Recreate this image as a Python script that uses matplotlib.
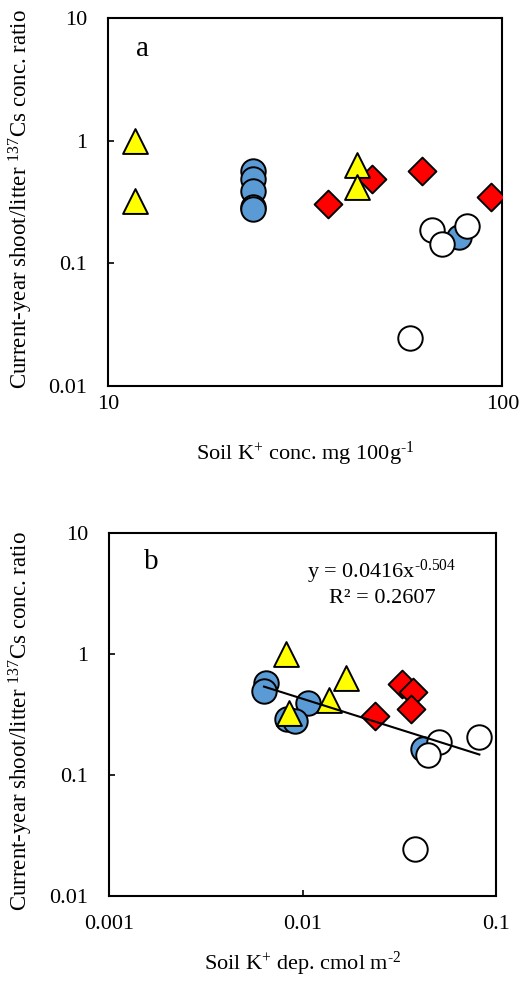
import numpy as np
import matplotlib
matplotlib.use('Agg')
import matplotlib.pyplot as plt

plt.rcParams['font.family'] = ['Liberation Serif', 'DejaVu Serif']
plt.rcParams['mathtext.fontset'] = 'custom'
plt.rcParams['mathtext.rm'] = 'Liberation Serif'
plt.rcParams['mathtext.it'] = 'Liberation Serif:italic'

# ratio values (current-year shoot / litter 137Cs), per group
blue_y = [0.57, 0.49, 0.39, 0.29, 0.28, 0.163]
white_y = [0.187, 0.145, 0.203, 0.0244]
red_y = [0.305, 0.564, 0.484, 0.346]
yellow_y = [1.0, 0.322, 0.634, 0.417]

# panel a: soil K+ conc. mg 100g-1
blue_conc = [23.3, 23.3, 23.3, 23.3, 23.3, 77.8]
white_conc = [66.2, 70.2, 81.5, 58.3]
red_conc = [36.2, 62.4, 46.8, 93.6]
yellow_conc = [11.7, 11.7, 42.8, 42.8]

# panel b: soil K+ dep. cmol m-2
blue_dep = [0.00645, 0.00631, 0.0107, 0.00834, 0.00916, 0.0421]
white_dep = [0.0507, 0.0444, 0.0820, 0.0381]
red_dep = [0.0237, 0.0325, 0.0371, 0.0362]
yellow_dep = [0.0082, 0.00847, 0.01683, 0.01374]

fit_a, fit_b = 0.0416, -0.504
r2 = 0.2607

BLUE = '#5B9BD5'
RED = '#FF0000'
YEL = '#FFFF00'

fig = plt.figure(figsize=(5.2, 9.81), dpi=100)
ax1 = fig.add_axes([0.2083, 0.6068, 0.7577, 0.3745])
ax2 = fig.add_axes([0.2102, 0.0870, 0.7437, 0.3700])

kw = dict(edgecolors='black', linewidths=1.4, zorder=3)

def draw(ax, bx, wx, rx, yx):
    ax.scatter(bx, blue_y, s=310, marker='o', facecolors=BLUE, **kw)
    ax.scatter(wx, white_y, s=310, marker='o', facecolors='white', **kw)
    ax.scatter(rx, red_y, s=200, marker='D', facecolors=RED, **kw)
    ax.scatter(yx, yellow_y, s=320, marker='^', facecolors=YEL, **kw)

draw(ax1, blue_conc, white_conc, red_conc, yellow_conc)
draw(ax2, blue_dep, white_dep, red_dep, yellow_dep)

# power trend line for panel b
all_dep = np.array(blue_dep + white_dep + red_dep + yellow_dep)
xx = np.linspace(all_dep.min(), all_dep.max(), 100)
ax2.plot(xx, fit_a * xx ** fit_b, color='black', lw=1.5, zorder=4)

for ax in (ax1, ax2):
    ax.set_xscale('log')
    ax.set_yscale('log')
    ax.set_ylim(0.01, 10)
    ax.set_yticks([0.01, 0.1, 1, 10])
    ax.set_yticklabels(['0.01', '0.1', '1', '10'])
    ax.minorticks_off()
    ax.tick_params(direction='in', length=4.5, width=1.2, labelsize=16)
    ax.tick_params(axis='y', pad=15)
    for sp in ax.spines.values():
        sp.set_linewidth(1.5)

ax1.set_xlim(10, 100)
ax1.set_xticks([10, 100])
ax1.set_xticklabels(['10', '100'])
ax1.tick_params(axis='x', pad=7)

ax2.set_xlim(0.001, 0.1)
ax2.set_xticks([0.001, 0.01, 0.1])
ax2.set_xticklabels(['0.001', '0.01', '0.1'])
ax2.tick_params(axis='x', pad=14)

ax1.text(0.087, 0.916, 'a', transform=ax1.transAxes, fontsize=21, ha='center', va='center')
ax2.text(0.108, 0.919, 'b', transform=ax2.transAxes, fontsize=21, ha='center', va='center')

ax2.text(0.705, 0.892, r'y = 0.0416x$^{\text{-0.504}}$', transform=ax2.transAxes,
         fontsize=16, ha='center', va='center')
ax2.text(0.705, 0.820, 'R² = %.4f' % r2, transform=ax2.transAxes,
         fontsize=16, ha='center', va='center')

ax1.set_xlabel(r'Soil K$^{+}$ conc. mg 100g$^{\text{-1}}$', fontsize=16, va='baseline')
ax1.xaxis.set_label_coords(0.5, -0.202)
ax2.set_xlabel(r'Soil K$^{+}$ dep. cmol m$^{\text{-2}}$', fontsize=16, va='baseline')
ax2.xaxis.set_label_coords(0.5, -0.205)

ylab = r'Current-year shoot/litter $^{137}$Cs conc. ratio'
fig.text(21 / 520, 1 - 199 / 981, ylab, rotation=90, ha='center', va='center', fontsize=16.5)
fig.text(21 / 520, 1 - 721 / 981, ylab, rotation=90, ha='center', va='center', fontsize=16.5)

fig.savefig('out.png', dpi=100)
